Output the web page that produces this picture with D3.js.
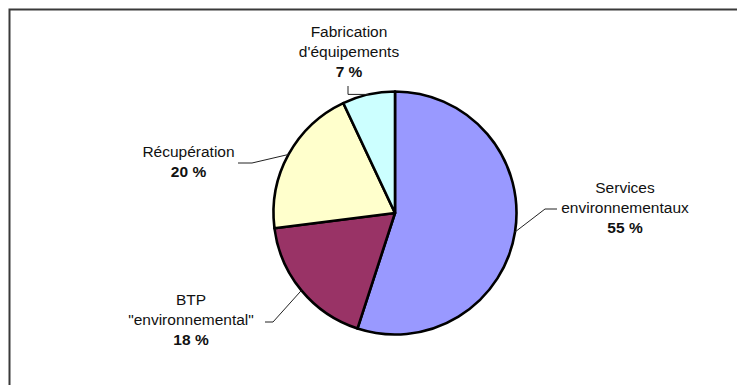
<!DOCTYPE html>
<html>
<head>
<meta charset="utf-8">
<script src="https://cdn.jsdelivr.net/npm/d3@7"></script>
<style>
  html, body { margin: 0; padding: 0; background: #fff; }
  svg { display: block; font-family: "Liberation Sans", Arial, sans-serif; }
</style>
</head>
<body>
<svg id="chart" width="737" height="385"></svg>
<script>
// Répartition des éco-activités (part en %)
const categories = ["Services\nenvironnementaux", "BTP\n\"environnemental\"", "Récupération", "Fabrication\nd'équipements"];
const values = [55, 18, 20, 7];
const colors = ["#9999FF", "#993366", "#FFFFCC", "#CCFFFF"];

// Label placement: text centre, first baseline, and leader elbow/end points
const labelLayout = [
  { x: 625, y: 193, path: [[545, 209], [557, 209]] },
  { x: 191, y: 305, path: [[273, 322], [265, 322]] },
  { x: 188.5, y: 157, path: [[252, 163], [238, 163]] },
  { x: 349, y: 37, path: [[348, 94.4], [348, 86]] }
];

const W = 737, H = 385;
const cx = 395, cy = 213, R = 121.5;
const lineH = 20;

const svg = d3.select("#chart");

// Outer frame (continues past the right and bottom edges)
svg.append("rect")
  .attr("x", 9.5).attr("y", 9.5)
  .attr("width", W + 20).attr("height", H + 20)
  .attr("fill", "#fff")
  .attr("stroke", "#3a3a3a").attr("stroke-width", 2);

const pie = d3.pie().sort(null).value(d => d)(values);
const arc = d3.arc().innerRadius(0).outerRadius(R);

const g = svg.append("g").attr("transform", `translate(${cx},${cy})`);

g.selectAll("path.slice")
  .data(pie)
  .join("path")
  .attr("class", "slice")
  .attr("d", arc)
  .attr("fill", (d, i) => colors[i])
  .attr("stroke", "#000")
  .attr("stroke-width", 2.6)
  .attr("stroke-linejoin", "round");

// Leader lines from each slice's mid-arc point
pie.forEach((d, i) => {
  const a = (d.startAngle + d.endAngle) / 2;
  const px = cx + R * Math.sin(a);
  const py = cy - R * Math.cos(a);
  const pts = [[px, py]].concat(labelLayout[i].path);
  svg.append("path")
    .attr("d", d3.line()(pts))
    .attr("fill", "none")
    .attr("stroke", "#222")
    .attr("stroke-width", 1);
});

// Labels: category name lines, then bold percentage
categories.forEach((name, i) => {
  const L = labelLayout[i];
  const lines = name.split("\n");
  const t = svg.append("text")
    .attr("text-anchor", "middle")
    .attr("font-size", 15.5)
    .attr("fill", "#111");
  lines.forEach((ln, k) => {
    t.append("tspan").attr("x", L.x).attr("y", L.y + k * lineH).text(ln);
  });
  t.append("tspan")
    .attr("x", L.x).attr("y", L.y + lines.length * lineH)
    .attr("font-weight", "bold")
    .text(values[i] + " %");
});
</script>
</body>
</html>
